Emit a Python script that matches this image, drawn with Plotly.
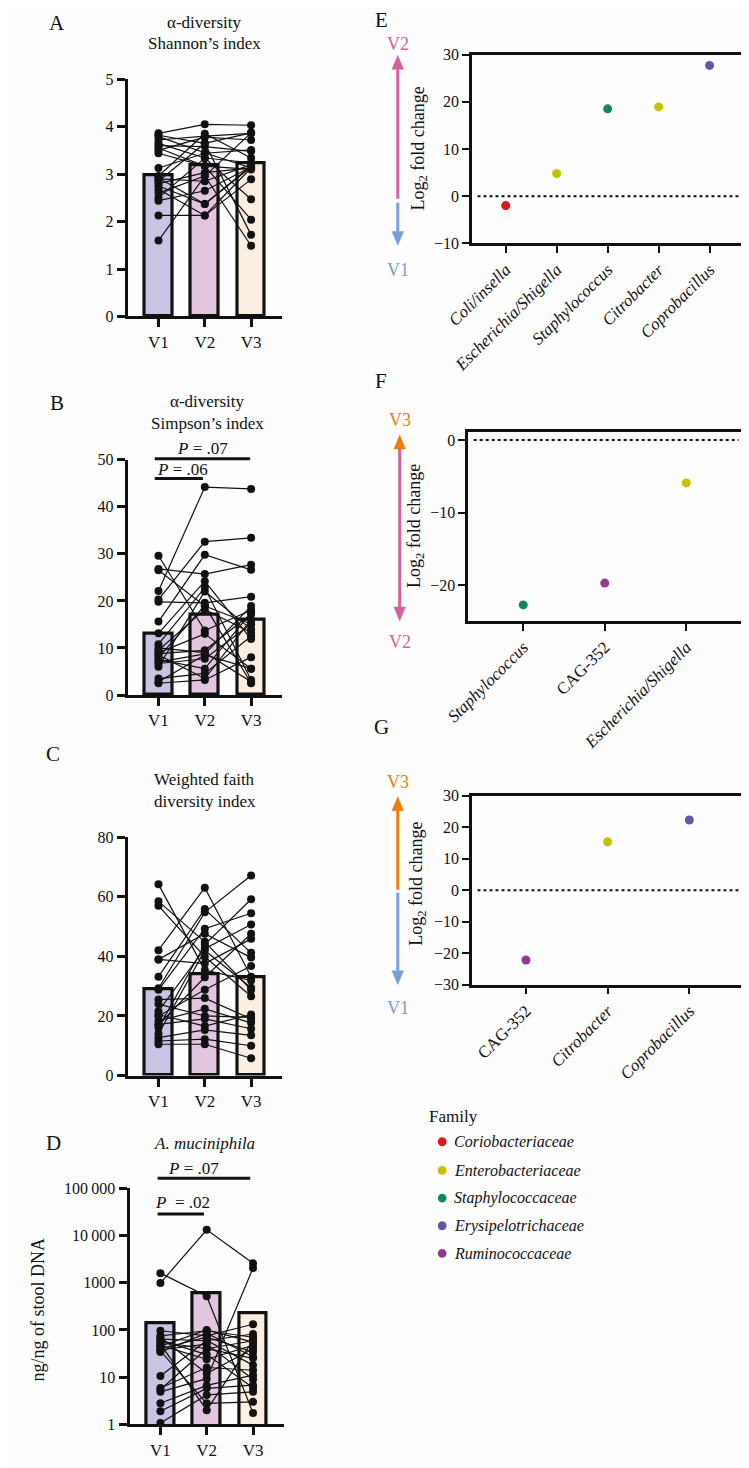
import plotly.graph_objects as go

# The page body has the browser's default 8 px margin, so the figure is sized
# to fit the window and positions are measured in window pixels.
WIN_W, WIN_H = 749, 1468
OFF = 8
W, H = WIN_W - OFF, WIN_H - OFF
FONT = "'Liberation Serif', 'Times New Roman', 'DejaVu Serif', serif"
BG = "#fdfdfd"

visits = ["V1", "V2", "V3"]
bar_colors = ["#c8c4e3", "#e3c5df", "#fcefe2"]

# ---------------- Panel A: Shannon's index (paired per subject) ----------------
shannon_v1 = [3.86, 3.82, 3.79, 3.72, 3.65, 3.60, 3.50, 3.44, 3.13, 2.96, 2.90,
              2.85, 2.80, 2.75, 2.68, 2.60, 2.50, 2.44, 2.13, 1.60, 3.55, 2.92]
shannon_v2 = [4.05, 3.65, 3.45, 3.80, 3.34, 3.58, 3.78, 3.17, 3.44, 3.85, 2.85,
              3.65, 3.03, 2.37, 2.13, 2.96, 3.34, 2.65, 2.13, 2.96, 3.17, 2.37]
shannon_v3 = [4.03, 3.87, 3.13, 3.86, 2.47, 3.48, 3.72, 2.04, 3.51, 3.34, 3.20,
              1.72, 3.13, 3.17, 3.13, 1.49, 3.24, 3.15, 2.89, 3.87, 3.10, 3.15]
shannon_mean = [2.97, 3.18, 3.24]

# ---------------- Panel B: Simpson's index ----------------
simpson_v1 = [29.6, 26.8, 26.5, 22.1, 20.3, 19.8, 15.6, 13.1, 10.8, 9.5, 8.8,
              8.0, 7.0, 6.7, 3.5, 2.5, 9.0, 7.5, 10.0, 6.0, 8.5, 2.8]
simpson_v2 = [13.7, 25.7, 18.9, 44.2, 32.6, 19.6, 29.8, 24.2, 22.8, 18.2, 9.5,
              19.0, 8.75, 7.7, 4.6, 3.2, 13.0, 5.6, 9.0, 22.0, 3.5, 8.5]
simpson_v3 = [18.0, 27.7, 15.1, 43.8, 33.4, 20.9, 26.6, 11.9, 3.2, 13.3, 17.2,
              2.5, 18.9, 15.1, 12.5, 8.05, 5.6, 17.5, 2.8, 14.0, 16.0, 5.6]
simpson_mean = [13.0, 17.0, 15.9]

# ---------------- Panel C: Weighted faith diversity ----------------
faith_v1 = [64.2, 58.5, 57.0, 42.1, 39.0, 39.0, 33.2, 29.3, 28.8, 25.5, 21.6,
            19.9, 18.3, 17.2, 16.0, 12.7, 11.6, 10.5, 20.5, 17.0, 14.0, 24.0]
faith_v2 = [35.4, 44.9, 39.9, 63.1, 47.6, 37.6, 55.9, 54.8, 49.3, 26.0, 42.6,
            28.8, 22.4, 19.0, 44.0, 15.3, 12.2, 10.5, 16.6, 33.0, 42.0, 20.0]
faith_v3 = [31.9, 28.8, 26.6, 33.2, 39.6, 45.9, 41.2, 67.2, 54.5, 19.0, 50.7,
            36.8, 17.7, 15.7, 59.2, 13.5, 10.0, 5.8, 20.5, 47.6, 29.5, 19.5]
faith_mean = [28.8, 33.9, 33.0]

# ---------------- Panel D: A. muciniphila (ng/ng of stool DNA) ----------------
akk_v1 = [980, 1590, 96, 75, 64, 55, 47, 40, 34, 10.6, 5.9, 4.9, 2.8, 1.9, 1.07,
          36, 50, 60, 45, 5.5, 70, 38]
akk_v2 = [13200, 515, 75, 96, 59, 40, 24, 70, 85, 60, 16, 9.3, 6.7, 5.8, 4.2,
          2.8, 2.0, 30, 100, 40, 12, 50]
akk_v3 = [2570, 1.75, 132, 70, 82, 59, 47, 34, 27, 18, 14, 2040, 11, 6.8, 4.9,
          3.0, 60, 6.0, 55, 25, 40, 9.0]
akk_mean = [136, 610, 230]

# ---------------- Panels E-G: differential abundance ----------------
families = ["Coriobacteriaceae", "Enterobacteriaceae", "Staphylococcaceae",
            "Erysipelotrichaceae", "Ruminococcaceae"]
family_colors = ["#e3141d", "#c9bf00", "#0c8a5c", "#5b5aa6", "#8f3b92"]

E_taxa = ["Coli/insella", "Escherichia/Shigella", "Staphylococcus", "Citrobacter", "Coprobacillus"]
E_lfc = [-2.0, 4.8, 18.5, 18.9, 27.7]
E_family = ["Coriobacteriaceae", "Enterobacteriaceae", "Staphylococcaceae",
            "Enterobacteriaceae", "Erysipelotrichaceae"]

F_taxa = ["Staphylococcus", "CAG-352", "Escherichia/Shigella"]
F_lfc = [-22.7, -19.7, -5.9]
F_family = ["Staphylococcaceae", "Ruminococcaceae", "Enterobacteriaceae"]

G_taxa = ["CAG-352", "Citrobacter", "Coprobacillus"]
G_lfc = [-22.2, 15.4, 22.3]
G_family = ["Ruminococcaceae", "Enterobacteriaceae", "Erysipelotrichaceae"]

PINK = "#d55f9f"
BLUE = "#769fd8"
ORANGE = "#ee7d0a"


def fx(px):
    return (px - OFF) / W


def fy(py):
    return 1 - (py - OFF) / H


fig = go.Figure()
layout = dict(
    width=W, height=H,
    margin=dict(l=0, r=0, t=0, b=0),
    paper_bgcolor=BG, plot_bgcolor=BG,
    font=dict(family=FONT, size=16, color="#111"),
    showlegend=False,
    bargap=0,
)
annotations = []
shapes = []


def axname(i):
    return ("x", "y") if i == 1 else (f"x{i}", f"y{i}")


def laykey(i):
    return ("xaxis", "yaxis") if i == 1 else (f"xaxis{i}", f"yaxis{i}")


def bar_panel(i, v1, v2, v3, means, xdom, ydom, yaxis_opts):
    xr, yr = axname(i)
    xk, yk = laykey(i)
    fig.add_trace(go.Bar(
        x=[0, 1, 2], y=means, width=0.6,
        marker=dict(color=bar_colors, line=dict(color="#111", width=3.2)),
        xaxis=xr, yaxis=yr, showlegend=False, hoverinfo="skip"))
    for a, b, c in zip(v1, v2, v3):
        fig.add_trace(go.Scatter(
            x=[0, 1, 2], y=[a, b, c], mode="lines+markers",
            line=dict(color="#111", width=1.2),
            marker=dict(color="#111", size=8),
            xaxis=xr, yaxis=yr, showlegend=False, cliponaxis=False))
    layout[xk] = dict(
        domain=[fx(xdom[0]), fx(xdom[1])], anchor=yr,
        range=[-0.667, 2.667], tickvals=[0, 1, 2], ticktext=visits,
        showline=True, linecolor="#111", linewidth=3,
        ticks="outside", ticklen=8, tickwidth=2.5, tickcolor="#111",
        showgrid=False, zeroline=False, tickfont=dict(family=FONT, size=17))
    yo = dict(
        domain=[fy(ydom[1]), fy(ydom[0])], anchor=xr,
        showline=True, linecolor="#111", linewidth=3,
        ticks="outside", ticklen=8, tickwidth=2.5, tickcolor="#111",
        showgrid=False, zeroline=False, tickfont=dict(family=FONT, size=16))
    yo.update(yaxis_opts)
    layout[yk] = yo


bar_panel(1, shannon_v1, shannon_v2, shannon_v3, shannon_mean,
          (105, 265), (72, 312), dict(range=[0, 5], dtick=1))
bar_panel(2, simpson_v1, simpson_v2, simpson_v3, simpson_mean,
          (105, 265), (457, 695), dict(range=[0, 50], dtick=10))
bar_panel(3, faith_v1, faith_v2, faith_v3, faith_mean,
          (105, 265), (839, 1080), dict(range=[0, 80], dtick=20))
bar_panel(4, akk_v1, akk_v2, akk_v3, akk_mean,
          (107, 267), (1194, 1433),
          dict(type="log", range=[0, 5],
               tickvals=[1, 10, 100, 1000, 10000, 100000],
               ticktext=["1", "10", "100", "1000", "10\u2009000", "100\u2009000"]))


def fmt_taxon(t):
    return t if t.startswith("CAG") else f"<i>{t}</i>"


def lfc_panel(i, taxa, lfc, fam, xdom, ydom, yrange, xrange):
    xr, yr = axname(i)
    xk, yk = laykey(i)
    for f, col in zip(families, family_colors):
        xs = [t for t, ff in zip(taxa, fam) if ff == f]
        ys = [v for v, ff in zip(lfc, fam) if ff == f]
        if not xs:
            continue
        fig.add_trace(go.Scatter(
            x=xs, y=ys, mode="markers", name=f,
            marker=dict(color=col, size=9),
            showlegend=False, xaxis=xr, yaxis=yr, cliponaxis=False))
    layout[xk] = dict(
        domain=[fx(xdom[0]), fx(xdom[1])], anchor=yr,
        type="category", categoryorder="array", categoryarray=taxa,
        range=xrange, tickvals=taxa, ticktext=[fmt_taxon(t) for t in taxa],
        tickangle=-45, showline=True, mirror=True, linecolor="#111", linewidth=2.5,
        ticks="outside", ticklen=7, tickwidth=2.2, tickcolor="#111",
        showgrid=False, zeroline=False, tickfont=dict(family=FONT, size=17))
    layout[yk] = dict(
        domain=[fy(ydom[1]), fy(ydom[0])], anchor=xr,
        range=yrange, dtick=10,
        showline=True, mirror=True, linecolor="#111", linewidth=2.5,
        ticks="outside", ticklen=7, tickwidth=2.2, tickcolor="#111",
        showgrid=False, zeroline=False, tickfont=dict(family=FONT, size=16))
    shapes.append(dict(type="line", xref=f"{xr} domain", yref=yr,
                       x0=0.02, x1=0.99, y0=0, y1=0,
                       line=dict(color="#111", width=2, dash="dot")))


lfc_panel(5, E_taxa, E_lfc, E_family, (462, 743), (47, 238), [-10, 30], [-0.66, 4.66])
lfc_panel(6, F_taxa, F_lfc, F_family, (458, 741), (429, 620), [-24.9, 1.1], [-0.675, 2.675])
lfc_panel(7, G_taxa, G_lfc, G_family, (462, 743), (797, 988), [-30, 30], [-0.66, 2.66])


def text(px, py, s, size=16, color="#111", xanchor="center", yanchor="middle", angle=0):
    annotations.append(dict(
        x=fx(px), y=fy(py), xref="paper", yref="paper", text=s, showarrow=False,
        xanchor=xanchor, yanchor=yanchor, textangle=angle,
        font=dict(family=FONT, size=size, color=color)))


# panel letters
for lab, (px, py) in zip("ABCDEFG", [(32, 15), (32, 400), (28, 755), (28, 1148),
                                     (368, 12), (368, 377), (368, 727)]):
    text(px, py, lab, size=21)

# titles
text(185, 15, "\u03b1-diversity", size=17)
text(185, 36, "Shannon\u2019s index", size=17)
text(188, 398, "\u03b1-diversity", size=17)
text(188, 420, "Simpson\u2019s index", size=17)
text(185, 781, "Weighted faith", size=17)
text(185, 803, "diversity index", size=17)
text(185, 1149, "<i>A. muciniphila</i>", size=17)

# P-value brackets
text(183, 446, "<i>P</i> = .07", size=17)
text(133, 467, "<i>P</i> = .06", size=17, xanchor="left")
text(173, 1174, "<i>P</i> = .07", size=17)
text(131, 1208, "<i>P</i>  = .02", size=17, xanchor="left")
shapes.append(dict(type="line", xref="x2", yref="paper", x0=-0.08, x1=1.98,
                   y0=fy(456), y1=fy(456), line=dict(color="#111", width=3)))
shapes.append(dict(type="line", xref="x2", yref="paper", x0=-0.08, x1=0.96,
                   y0=fy(476), y1=fy(476), line=dict(color="#111", width=3)))
shapes.append(dict(type="line", xref="x4", yref="paper", x0=-0.06, x1=1.94,
                   y0=fy(1184), y1=fy(1184), line=dict(color="#111", width=3)))
shapes.append(dict(type="line", xref="x4", yref="paper", x0=-0.06, x1=0.94,
                   y0=fy(1220), y1=fy(1220), line=dict(color="#111", width=3)))

# axis titles
text(12, 1317, "ng/ng of stool DNA", size=18, angle=-90)
text(407, 142, "Log<sub>2</sub> fold change", size=18, angle=-90)
text(404, 524, "Log<sub>2</sub> fold change", size=18, angle=-90)
text(406, 886, "Log<sub>2</sub> fold change", size=18, angle=-90)


def arrow(px, y_from, y_tip, color, head_len=14, head_w=12):
    d = 1 if y_tip > y_from else -1
    base = y_tip - d * head_len
    shapes.append(dict(type="line", xref="paper", yref="paper",
                       x0=fx(px), x1=fx(px), y0=fy(y_from), y1=fy(base),
                       line=dict(color=color, width=3)))
    path = (f"M {fx(px - head_w / 2)},{fy(base)} L {fx(px + head_w / 2)},{fy(base)} "
            f"L {fx(px)},{fy(y_tip)} Z")
    shapes.append(dict(type="path", xref="paper", yref="paper", path=path,
                       fillcolor=color, line=dict(color=color, width=0.5)))


# E arrows
arrow(385, 193, 48, PINK)
arrow(385, 197, 240, BLUE)
text(385, 36, "V2", size=18, color=PINK)
text(385, 265, "V1", size=18, color=BLUE)
# F arrows
arrow(387, 446, 432, ORANGE)
arrow(387, 446, 620, PINK)
text(387, 417, "V3", size=18, color=ORANGE)
text(387, 641, "V2", size=18, color=PINK)
# G arrows
arrow(385, 892, 798, ORANGE)
arrow(385, 895, 988, BLUE)
text(385, 783, "V3", size=18, color=ORANGE)
text(385, 1012, "V1", size=18, color=BLUE)

# Family legend (keys drawn as circles, names as text)
text(415, 1121, "Family", size=17, xanchor="left")
leg_y = [1147, 1176, 1204, 1232, 1260]
for f, col, py in zip(families, family_colors, leg_y):
    shapes.append(dict(type="circle", xref="paper", yref="paper",
                       x0=fx(431 - 4.5), x1=fx(431 + 4.5), y0=fy(py + 4.5), y1=fy(py - 4.5),
                       fillcolor=col, line=dict(color=col, width=0)))
    text(441, py, f"<i>{f}</i>", size=16, xanchor="left")

layout["annotations"] = annotations
layout["shapes"] = shapes

fig.update_layout(**layout)
fig.write_html("out.html")
